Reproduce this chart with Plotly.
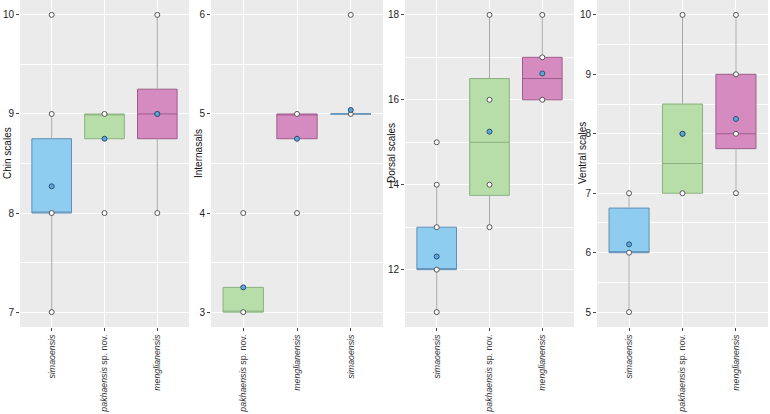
import plotly.graph_objects as go

# ---------------- data ----------------
panel_titles = ["Chin scales", "Internasals", "Dorsal scales", "Ventral scales"]

SIM = "simaoensis"
PAK = "pakhaensis sp. nov."
MEN = "menglianensis"

cats_chin = [SIM, PAK, MEN]
cats_intern = [PAK, MEN, SIM]
cats_dorsal = [SIM, PAK, MEN]
cats_ventral = [SIM, PAK, MEN]

# box statistics: q1, median, q3, lower whisker, upper whisker
chin_q1 = [8, 8.75, 8.75]
chin_med = [8, 9, 9]
chin_q3 = [8.75, 9, 9.25]
chin_lo = [7, 8.75, 8]
chin_hi = [9, 9, 10]
chin_mean = [8.27, 8.75, 9.0]
chin_pts = [[10, 9, 8, 7], [9, 8], [10, 9, 8]]

intern_q1 = [3, 4.75, 5]
intern_med = [3, 5, 5]
intern_q3 = [3.25, 5, 5]
intern_lo = [3, 4.75, 5]
intern_hi = [3.25, 5, 5]
intern_mean = [3.25, 4.75, 5.04]
intern_pts = [[4, 3], [5, 4], [6, 5]]

dorsal_q1 = [12, 13.75, 16]
dorsal_med = [12, 15, 16.5]
dorsal_q3 = [13, 16.5, 17]
dorsal_lo = [11, 13, 16]
dorsal_hi = [14, 18, 18]
dorsal_mean = [12.31, 15.25, 16.62]
dorsal_pts = [[15, 14, 13, 12, 11], [18, 16, 14, 13], [18, 17, 16]]

ventral_q1 = [6, 7, 7.75]
ventral_med = [6, 7.5, 8]
ventral_q3 = [6.75, 8.5, 9]
ventral_lo = [5, 7, 7]
ventral_hi = [7, 10, 10]
ventral_mean = [6.14, 8.0, 8.25]
ventral_pts = [[7, 6, 5], [10, 8, 7], [10, 9, 8, 7]]

y_ranges = [[6.85, 10.15], [2.85, 6.15], [10.65, 18.35], [4.75, 10.25]]
y_ticks = [[7, 8, 9, 10], [3, 4, 5, 6], [12, 14, 16, 18], [5, 6, 7, 8, 9, 10]]
y_minor = [0.5, 0.5, 1, 0.5]

# ---------------- styles ----------------
fills = {SIM: "#8FCDF0", PAK: "#B7DEA8", MEN: "#D68BC0"}
lines = {SIM: "#5F8FB4", PAK: "#8BAF80", MEN: "#9E5C8E"}
tick_html = {SIM: "<i>simaoensis</i>", PAK: "<i>pakhaensis</i> sp. nov.",
             MEN: "<i>menglianensis</i>"}

W, H = 770, 414
dom_px = [(20, 189), (211, 383), (405, 574), (597, 768)]
title_shift = [-13, -13, -14, -15]
ydom = [1 - 327 / H, 1]

panels = [
    (cats_chin, chin_q1, chin_med, chin_q3, chin_lo, chin_hi, chin_mean, chin_pts),
    (cats_intern, intern_q1, intern_med, intern_q3, intern_lo, intern_hi, intern_mean, intern_pts),
    (cats_dorsal, dorsal_q1, dorsal_med, dorsal_q3, dorsal_lo, dorsal_hi, dorsal_mean, dorsal_pts),
    (cats_ventral, ventral_q1, ventral_med, ventral_q3, ventral_lo, ventral_hi, ventral_mean, ventral_pts),
]

fig = go.Figure()
FONT = "Liberation Sans, Arial, sans-serif"

for i, (cats, q1, med, q3, lo, hi, mean, pts) in enumerate(panels):
    n = "" if i == 0 else str(i + 1)
    xa, ya = "x" + n, "y" + n
    # whiskers
    for c, a, b, l, h in zip(cats, q1, q3, lo, hi):
        fig.add_trace(go.Scatter(x=[c, c, None, c, c], y=[l, a, None, b, h], mode="lines",
                                 line=dict(color="#A8A8A8", width=1), xaxis=xa, yaxis=ya,
                                 hoverinfo="skip", showlegend=False))
    # boxes
    for c, a, m, b in zip(cats, q1, med, q3):
        fig.add_trace(go.Box(x=[c], q1=[a], median=[m], q3=[b], lowerfence=[a], upperfence=[b],
                             fillcolor=fills[c], line=dict(color=lines[c], width=1),
                             width=0.75, whiskerwidth=0, boxpoints=False,
                             xaxis=xa, yaxis=ya, showlegend=False))
    # data points
    for c, p in zip(cats, pts):
        fig.add_trace(go.Scatter(x=[c] * len(p), y=p, mode="markers",
                                 marker=dict(size=5, color="white",
                                             line=dict(color="#555555", width=1)),
                                 xaxis=xa, yaxis=ya, showlegend=False))
    # means
    fig.add_trace(go.Scatter(x=cats, y=mean, mode="markers",
                             marker=dict(size=5, color="#5AA8DE",
                                         line=dict(color="#2F4F6F", width=1)),
                             xaxis=xa, yaxis=ya, showlegend=False))

    x0, x1 = dom_px[i]
    fig.layout["xaxis" + n] = dict(
        domain=[x0 / W, x1 / W], anchor=ya, type="category", automargin=False,
        categoryorder="array", categoryarray=cats, range=[-0.6, 2.6],
        tickmode="array", tickvals=cats, ticktext=[tick_html[c] for c in cats],
        tickangle=-90, ticks="outside", ticklen=3, tickcolor="#444", tickwidth=1,
        showgrid=True, gridcolor="white", gridwidth=1, zeroline=False,
        tickfont=dict(family=FONT, size=8.8, color="#333"), showline=False,
        fixedrange=True)
    fig.layout["yaxis" + n] = dict(
        domain=ydom, anchor=xa, range=y_ranges[i], tickmode="array", automargin=False,
        tickvals=y_ticks[i], ticks="outside", ticklen=3, tickcolor="#444", tickwidth=1,
        showgrid=True, gridcolor="white", gridwidth=1, zeroline=False, showline=False,
        tickfont=dict(family=FONT, size=10, color="#222"),
        minor=dict(dtick=y_minor[i], tick0=0, showgrid=True, gridcolor="white",
                   gridwidth=0.5),
        fixedrange=True)
    fig.add_annotation(text=panel_titles[i], xref=xa + " domain", yref=ya + " domain",
                       x=0, y=(327 - 153) / 327, xshift=title_shift[i], textangle=-90,
                       showarrow=False, xanchor="center", yanchor="middle",
                       font=dict(family=FONT, size=10, color="#111"))

fig.update_layout(width=W, height=H, margin=dict(l=0, r=0, t=0, b=0),
                  paper_bgcolor="white", plot_bgcolor="#EBEBEB", showlegend=False,
                  font=dict(family=FONT))

fig.write_html("out.html")
